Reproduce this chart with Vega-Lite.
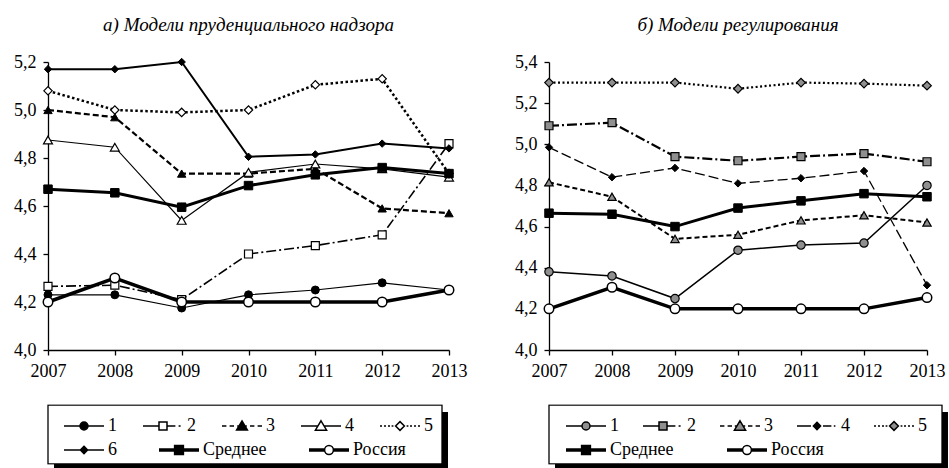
{
  "$schema": "https://vega.github.io/schema/vega-lite/v6.json",
  "background": "white",
  "padding": {"left": 13, "top": 16, "right": 0, "bottom": 0},
  "datasets": {
    "a": [
      {"series": "1", "year": 2007, "value": 4.23}, {"series": "1", "year": 2008, "value": 4.23}, {"series": "1", "year": 2009, "value": 4.175}, {"series": "1", "year": 2010, "value": 4.23}, {"series": "1", "year": 2011, "value": 4.25}, {"series": "1", "year": 2012, "value": 4.28}, {"series": "1", "year": 2013, "value": 4.25},
      {"series": "2", "year": 2007, "value": 4.265}, {"series": "2", "year": 2008, "value": 4.27}, {"series": "2", "year": 2009, "value": 4.21}, {"series": "2", "year": 2010, "value": 4.4}, {"series": "2", "year": 2011, "value": 4.435}, {"series": "2", "year": 2012, "value": 4.48}, {"series": "2", "year": 2013, "value": 4.86},
      {"series": "3", "year": 2007, "value": 5.0}, {"series": "3", "year": 2008, "value": 4.97}, {"series": "3", "year": 2009, "value": 4.735}, {"series": "3", "year": 2010, "value": 4.735}, {"series": "3", "year": 2011, "value": 4.755}, {"series": "3", "year": 2012, "value": 4.59}, {"series": "3", "year": 2013, "value": 4.57},
      {"series": "4", "year": 2007, "value": 4.875}, {"series": "4", "year": 2008, "value": 4.845}, {"series": "4", "year": 2009, "value": 4.54}, {"series": "4", "year": 2010, "value": 4.74}, {"series": "4", "year": 2011, "value": 4.775}, {"series": "4", "year": 2012, "value": 4.755}, {"series": "4", "year": 2013, "value": 4.72},
      {"series": "5", "year": 2007, "value": 5.08}, {"series": "5", "year": 2008, "value": 5.0}, {"series": "5", "year": 2009, "value": 4.99}, {"series": "5", "year": 2010, "value": 5.0}, {"series": "5", "year": 2011, "value": 5.105}, {"series": "5", "year": 2012, "value": 5.13}, {"series": "5", "year": 2013, "value": 4.735},
      {"series": "6", "year": 2007, "value": 5.17}, {"series": "6", "year": 2008, "value": 5.17}, {"series": "6", "year": 2009, "value": 5.2}, {"series": "6", "year": 2010, "value": 4.805}, {"series": "6", "year": 2011, "value": 4.815}, {"series": "6", "year": 2012, "value": 4.86}, {"series": "6", "year": 2013, "value": 4.84},
      {"series": "Среднее", "year": 2007, "value": 4.67}, {"series": "Среднее", "year": 2008, "value": 4.655}, {"series": "Среднее", "year": 2009, "value": 4.595}, {"series": "Среднее", "year": 2010, "value": 4.685}, {"series": "Среднее", "year": 2011, "value": 4.73}, {"series": "Среднее", "year": 2012, "value": 4.76}, {"series": "Среднее", "year": 2013, "value": 4.735},
      {"series": "Россия", "year": 2007, "value": 4.2}, {"series": "Россия", "year": 2008, "value": 4.3}, {"series": "Россия", "year": 2009, "value": 4.2}, {"series": "Россия", "year": 2010, "value": 4.2}, {"series": "Россия", "year": 2011, "value": 4.2}, {"series": "Россия", "year": 2012, "value": 4.2}, {"series": "Россия", "year": 2013, "value": 4.25}
    ],
    "b": [
      {"series": "1", "year": 2007, "value": 4.38}, {"series": "1", "year": 2008, "value": 4.36}, {"series": "1", "year": 2009, "value": 4.25}, {"series": "1", "year": 2010, "value": 4.485}, {"series": "1", "year": 2011, "value": 4.51}, {"series": "1", "year": 2012, "value": 4.52}, {"series": "1", "year": 2013, "value": 4.8},
      {"series": "2", "year": 2007, "value": 5.09}, {"series": "2", "year": 2008, "value": 5.105}, {"series": "2", "year": 2009, "value": 4.94}, {"series": "2", "year": 2010, "value": 4.92}, {"series": "2", "year": 2011, "value": 4.94}, {"series": "2", "year": 2012, "value": 4.955}, {"series": "2", "year": 2013, "value": 4.915},
      {"series": "3", "year": 2007, "value": 4.815}, {"series": "3", "year": 2008, "value": 4.745}, {"series": "3", "year": 2009, "value": 4.54}, {"series": "3", "year": 2010, "value": 4.56}, {"series": "3", "year": 2011, "value": 4.63}, {"series": "3", "year": 2012, "value": 4.655}, {"series": "3", "year": 2013, "value": 4.62},
      {"series": "4", "year": 2007, "value": 4.985}, {"series": "4", "year": 2008, "value": 4.84}, {"series": "4", "year": 2009, "value": 4.885}, {"series": "4", "year": 2010, "value": 4.81}, {"series": "4", "year": 2011, "value": 4.835}, {"series": "4", "year": 2012, "value": 4.87}, {"series": "4", "year": 2013, "value": 4.315},
      {"series": "5", "year": 2007, "value": 5.3}, {"series": "5", "year": 2008, "value": 5.3}, {"series": "5", "year": 2009, "value": 5.3}, {"series": "5", "year": 2010, "value": 5.27}, {"series": "5", "year": 2011, "value": 5.3}, {"series": "5", "year": 2012, "value": 5.295}, {"series": "5", "year": 2013, "value": 5.285},
      {"series": "Среднее", "year": 2007, "value": 4.665}, {"series": "Среднее", "year": 2008, "value": 4.66}, {"series": "Среднее", "year": 2009, "value": 4.6}, {"series": "Среднее", "year": 2010, "value": 4.69}, {"series": "Среднее", "year": 2011, "value": 4.725}, {"series": "Среднее", "year": 2012, "value": 4.76}, {"series": "Среднее", "year": 2013, "value": 4.745},
      {"series": "Россия", "year": 2007, "value": 4.2}, {"series": "Россия", "year": 2008, "value": 4.305}, {"series": "Россия", "year": 2009, "value": 4.2}, {"series": "Россия", "year": 2010, "value": 4.2}, {"series": "Россия", "year": 2011, "value": 4.2}, {"series": "Россия", "year": 2012, "value": 4.2}, {"series": "Россия", "year": 2013, "value": 4.255}
    ]
  },
  "spacing": 100,
  "bounds": "flush",
  "hconcat": [
    {
      "data": {"name": "a"},
      "width": 401,
      "height": 288,
      "title": {"text": "а) Модели пруденциального надзора"},
      "resolve": {"scale": {"shape": "independent", "fill": "independent", "stroke": "independent"}},
      "encoding": {
        "x": {"field": "year", "type": "quantitative", "scale": {"domain": [2007, 2013], "nice": false, "zero": false}, "axis": {"values": [2007, 2008, 2009, 2010, 2011, 2012, 2013], "format": "d"}},
        "y": {"field": "value", "type": "quantitative", "scale": {"domain": [4, 5.2], "nice": false, "zero": false}, "axis": {"values": [4, 4.2, 4.4, 4.6, 4.8, 5, 5.2], "labelExpr": "replace(format(datum.value, '.1f'), '.', ',')"}}
      },
      "layer": [
        {"transform": [{"filter": {"field": "series", "equal": "1"}}], "mark": {"type": "line", "color": "black", "strokeWidth": 1.2}, "encoding": {}},
        {"transform": [{"filter": {"field": "series", "equal": "2"}}], "mark": {"type": "line", "color": "black", "strokeWidth": 1.6, "strokeDash": [10, 3, 2, 3]}, "encoding": {}},
        {"transform": [{"filter": {"field": "series", "equal": "3"}}], "mark": {"type": "line", "color": "black", "strokeWidth": 2.2, "strokeDash": [6, 3]}, "encoding": {}},
        {"transform": [{"filter": {"field": "series", "equal": "4"}}], "mark": {"type": "line", "color": "black", "strokeWidth": 1.2}, "encoding": {}},
        {"transform": [{"filter": {"field": "series", "equal": "5"}}], "mark": {"type": "line", "color": "black", "strokeWidth": 2.5, "strokeDash": [2.5, 2.5]}, "encoding": {}},
        {"transform": [{"filter": {"field": "series", "equal": "6"}}], "mark": {"type": "line", "color": "black", "strokeWidth": 2}, "encoding": {}},
        {"transform": [{"filter": {"field": "series", "equal": "Среднее"}}], "mark": {"type": "line", "color": "black", "strokeWidth": 3}, "encoding": {}},
        {"transform": [{"filter": {"field": "series", "equal": "Россия"}}], "mark": {"type": "line", "color": "black", "strokeWidth": 3.5}, "encoding": {}},
        {"transform": [{"filter": {"field": "series", "equal": "1"}}], "mark": {"type": "point", "shape": "circle", "filled": true, "fill": "black", "stroke": "black", "strokeWidth": 1, "size": 64, "opacity": 1}, "encoding": {}},
        {"transform": [{"filter": {"field": "series", "equal": "2"}}], "mark": {"type": "point", "shape": "square", "filled": true, "fill": "white", "stroke": "black", "strokeWidth": 1.2, "size": 64, "opacity": 1}, "encoding": {}},
        {"transform": [{"filter": {"field": "series", "equal": "3"}}], "mark": {"type": "point", "shape": "triangle-up", "filled": true, "fill": "black", "stroke": "black", "strokeWidth": 1, "size": 70, "opacity": 1}, "encoding": {}},
        {"transform": [{"filter": {"field": "series", "equal": "4"}}], "mark": {"type": "point", "shape": "triangle-up", "filled": true, "fill": "white", "stroke": "black", "strokeWidth": 1.2, "size": 80, "opacity": 1}, "encoding": {}},
        {"transform": [{"filter": {"field": "series", "equal": "5"}}], "mark": {"type": "point", "shape": "diamond", "filled": true, "fill": "white", "stroke": "black", "strokeWidth": 1.2, "size": 70, "opacity": 1}, "encoding": {}},
        {"transform": [{"filter": {"field": "series", "equal": "6"}}], "mark": {"type": "point", "shape": "diamond", "filled": true, "fill": "black", "stroke": "black", "strokeWidth": 1, "size": 55, "opacity": 1}, "encoding": {}},
        {"transform": [{"filter": {"field": "series", "equal": "Среднее"}}], "mark": {"type": "point", "shape": "square", "filled": true, "fill": "black", "stroke": "black", "strokeWidth": 1, "size": 72, "opacity": 1}, "encoding": {}},
        {"transform": [{"filter": {"field": "series", "equal": "Россия"}}], "mark": {"type": "point", "shape": "circle", "filled": true, "fill": "white", "stroke": "black", "strokeWidth": 1.5, "size": 90, "opacity": 1}, "encoding": {}},
        {
          "transform": [{"filter": "false"}],
          "mark": {"type": "point", "filled": true, "opacity": 1, "strokeWidth": 0},
          "encoding": {
            "shape": {"field": "series", "type": "nominal", "scale": {"domain": ["shadow-a"], "range": ["M-1,-0.1497H1V0.1497H-1Z"]},
              "legend": {"title": null, "orient": "none", "legendX": 6, "legendY": 349.5, "columns": 1, "clipHeight": 60, "symbolSize": 155236, "symbolStrokeWidth": 0, "labelExpr": "''", "zindex": 0}},
            "fill": {"field": "series", "type": "nominal", "scale": {"domain": ["shadow-a"], "range": ["black"]},
              "legend": {"title": null, "orient": "none", "legendX": 6, "legendY": 349.5, "columns": 1, "clipHeight": 60, "symbolSize": 155236, "symbolStrokeWidth": 0, "labelExpr": "''", "zindex": 0}}
          }
        },
        {
          "transform": [{"filter": "false"}],
          "mark": {"type": "point", "filled": true, "opacity": 1, "strokeWidth": 1.3},
          "encoding": {
            "shape": {"field": "series", "type": "nominal", "scale": {"domain": ["box-a"], "range": ["M-1,-0.1497H1V0.1497H-1Z"]},
              "legend": {"title": null, "orient": "none", "legendX": -1, "legendY": 342.5, "columns": 1, "clipHeight": 60, "symbolSize": 155236, "symbolStrokeWidth": 1.3, "labelExpr": "''", "zindex": 1}},
            "fill": {"field": "series", "type": "nominal", "scale": {"domain": ["box-a"], "range": ["white"]},
              "legend": {"title": null, "orient": "none", "legendX": -1, "legendY": 342.5, "columns": 1, "clipHeight": 60, "symbolSize": 155236, "symbolStrokeWidth": 1.3, "labelExpr": "''", "zindex": 1}},
            "stroke": {"field": "series", "type": "nominal", "scale": {"domain": ["box-a"], "range": ["black"]},
              "legend": {"title": null, "orient": "none", "legendX": -1, "legendY": 342.5, "columns": 1, "clipHeight": 60, "symbolSize": 155236, "symbolStrokeWidth": 1.3, "labelExpr": "''", "zindex": 1}}
          }
        },
        {
          "transform": [{"filter": "false"}],
          "mark": {"type": "point", "filled": true, "opacity": 1, "strokeWidth": 1.5},
          "encoding": {
            "shape": {"field": "series", "type": "nominal",
              "scale": {"domain": ["1", "2", "3", "4", "5"],
                "range": [
                  "M-1,0H1M-0.2,0A0.2,0.2,0,1,0,0.2,0A0.2,0.2,0,1,0,-0.2,0Z",
                  "M-1,0H-0.2M0.2,0H0.62M0.78,0H0.88M-0.2,-0.2H0.2V0.2H-0.2Z",
                  "M-1,0H-0.78M-0.62,0H-0.4M-0.24,0H0.24M0.4,0H0.62M0.78,0H1M0,-0.25L0.27,0.2H-0.27Z",
                  "M-1,0H-0.16M0.16,0H1M0,-0.26L0.28,0.21H-0.28Z",
                  "M-1,0H-0.9M-0.8,0H-0.7M-0.6,0H-0.5M-0.42,0H-0.33M0.33,0H0.42M0.5,0H0.6M0.7,0H0.8M0.9,0H1M0,-0.22L0.22,0L0,0.22L-0.22,0Z"
                ]},
              "legend": {"title": null, "orient": "none", "direction": "horizontal", "legendX": 15, "legendY": 355, "columnPadding": 25, "zindex": 2}},
            "fill": {"field": "series", "type": "nominal",
              "scale": {"domain": ["1", "2", "3", "4", "5"], "range": ["black", "white", "black", "white", "white"]},
              "legend": {"title": null, "orient": "none", "direction": "horizontal", "legendX": 15, "legendY": 355, "columnPadding": 25, "zindex": 2}},
            "stroke": {"field": "series", "type": "nominal",
              "scale": {"domain": ["1", "2", "3", "4", "5"], "range": ["black"]},
              "legend": {"title": null, "orient": "none", "direction": "horizontal", "legendX": 15, "legendY": 355, "columnPadding": 25, "zindex": 2}}
          }
        },
        {
          "transform": [{"filter": "false"}],
          "mark": {"type": "point", "filled": true, "opacity": 1, "strokeWidth": 1.5},
          "encoding": {
            "shape": {"field": "series", "type": "nominal",
              "scale": {"domain": ["6", "Среднее", "Россия"],
                "range": [
                  "M-1,0H1M0,-0.18L0.18,0L0,0.18L-0.18,0Z",
                  "M-1,-0.05H1M-1,0H1M-1,0.05H1M-0.22,-0.22H0.22V0.22H-0.22Z",
                  "M-1,-0.05H-0.215M-1,0H-0.22M-1,0.05H-0.215M0.215,-0.05H1M0.22,0H1M0.215,0.05H1M-0.22,0A0.22,0.22,0,1,0,0.22,0A0.22,0.22,0,1,0,-0.22,0Z"
                ]},
              "legend": {"title": null, "orient": "none", "direction": "horizontal", "legendX": 15, "legendY": 379, "columnPadding": 41, "zindex": 2}},
            "fill": {"field": "series", "type": "nominal",
              "scale": {"domain": ["6", "Среднее", "Россия"], "range": ["black", "black", "white"]},
              "legend": {"title": null, "orient": "none", "direction": "horizontal", "legendX": 15, "legendY": 379, "columnPadding": 41, "zindex": 2}},
            "stroke": {"field": "series", "type": "nominal",
              "scale": {"domain": ["6", "Среднее", "Россия"], "range": ["black"]},
              "legend": {"title": null, "orient": "none", "direction": "horizontal", "legendX": 15, "legendY": 379, "columnPadding": 41, "zindex": 2}}
          }
        }
      ]
    },
    {
      "data": {"name": "b"},
      "width": 378,
      "height": 288,
      "title": {"text": "б) Модели регулирования"},
      "resolve": {"scale": {"shape": "independent", "fill": "independent", "stroke": "independent"}},
      "encoding": {
        "x": {"field": "year", "type": "quantitative", "scale": {"domain": [2007, 2013], "nice": false, "zero": false}, "axis": {"values": [2007, 2008, 2009, 2010, 2011, 2012, 2013], "format": "d"}},
        "y": {"field": "value", "type": "quantitative", "scale": {"domain": [4, 5.4], "nice": false, "zero": false}, "axis": {"values": [4, 4.2, 4.4, 4.6, 4.8, 5, 5.2, 5.4], "labelExpr": "replace(format(datum.value, '.1f'), '.', ',')"}}
      },
      "layer": [
        {"transform": [{"filter": {"field": "series", "equal": "1"}}], "mark": {"type": "line", "color": "black", "strokeWidth": 1.5}, "encoding": {}},
        {"transform": [{"filter": {"field": "series", "equal": "2"}}], "mark": {"type": "line", "color": "black", "strokeWidth": 2.2, "strokeDash": [10, 3, 2, 3]}, "encoding": {}},
        {"transform": [{"filter": {"field": "series", "equal": "3"}}], "mark": {"type": "line", "color": "black", "strokeWidth": 2, "strokeDash": [5, 3]}, "encoding": {}},
        {"transform": [{"filter": {"field": "series", "equal": "4"}}], "mark": {"type": "line", "color": "black", "strokeWidth": 1.3, "strokeDash": [10, 4]}, "encoding": {}},
        {"transform": [{"filter": {"field": "series", "equal": "5"}}], "mark": {"type": "line", "color": "black", "strokeWidth": 2.2, "strokeDash": [2, 2.5]}, "encoding": {}},
        {"transform": [{"filter": {"field": "series", "equal": "Среднее"}}], "mark": {"type": "line", "color": "black", "strokeWidth": 3}, "encoding": {}},
        {"transform": [{"filter": {"field": "series", "equal": "Россия"}}], "mark": {"type": "line", "color": "black", "strokeWidth": 3.5}, "encoding": {}},
        {"transform": [{"filter": {"field": "series", "equal": "1"}}], "mark": {"type": "point", "shape": "circle", "filled": true, "fill": "#8f8f8f", "stroke": "black", "strokeWidth": 1.2, "size": 70, "opacity": 1}, "encoding": {}},
        {"transform": [{"filter": {"field": "series", "equal": "2"}}], "mark": {"type": "point", "shape": "square", "filled": true, "fill": "#8f8f8f", "stroke": "black", "strokeWidth": 1.2, "size": 64, "opacity": 1}, "encoding": {}},
        {"transform": [{"filter": {"field": "series", "equal": "3"}}], "mark": {"type": "point", "shape": "triangle-up", "filled": true, "fill": "#8f8f8f", "stroke": "black", "strokeWidth": 1.2, "size": 70, "opacity": 1}, "encoding": {}},
        {"transform": [{"filter": {"field": "series", "equal": "4"}}], "mark": {"type": "point", "shape": "diamond", "filled": true, "fill": "black", "stroke": "black", "strokeWidth": 1, "size": 55, "opacity": 1}, "encoding": {}},
        {"transform": [{"filter": {"field": "series", "equal": "5"}}], "mark": {"type": "point", "shape": "diamond", "filled": true, "fill": "#8f8f8f", "stroke": "black", "strokeWidth": 1.2, "size": 75, "opacity": 1}, "encoding": {}},
        {"transform": [{"filter": {"field": "series", "equal": "Среднее"}}], "mark": {"type": "point", "shape": "square", "filled": true, "fill": "black", "stroke": "black", "strokeWidth": 1, "size": 72, "opacity": 1}, "encoding": {}},
        {"transform": [{"filter": {"field": "series", "equal": "Россия"}}], "mark": {"type": "point", "shape": "circle", "filled": true, "fill": "white", "stroke": "black", "strokeWidth": 1.5, "size": 90, "opacity": 1}, "encoding": {}},
        {
          "transform": [{"filter": "false"}],
          "mark": {"type": "point", "filled": true, "opacity": 1, "strokeWidth": 0},
          "encoding": {
            "shape": {"field": "series", "type": "nominal", "scale": {"domain": ["shadow-b"], "range": ["M-1,-0.1501H1V0.1501H-1Z"]},
              "legend": {"title": null, "orient": "none", "legendX": 6, "legendY": 349.5, "columns": 1, "clipHeight": 60, "symbolSize": 154449, "symbolStrokeWidth": 0, "labelExpr": "''", "zindex": 0}},
            "fill": {"field": "series", "type": "nominal", "scale": {"domain": ["shadow-b"], "range": ["black"]},
              "legend": {"title": null, "orient": "none", "legendX": 6, "legendY": 349.5, "columns": 1, "clipHeight": 60, "symbolSize": 154449, "symbolStrokeWidth": 0, "labelExpr": "''", "zindex": 0}}
          }
        },
        {
          "transform": [{"filter": "false"}],
          "mark": {"type": "point", "filled": true, "opacity": 1, "strokeWidth": 1.3},
          "encoding": {
            "shape": {"field": "series", "type": "nominal", "scale": {"domain": ["box-b"], "range": ["M-1,-0.1501H1V0.1501H-1Z"]},
              "legend": {"title": null, "orient": "none", "legendX": -1, "legendY": 342.5, "columns": 1, "clipHeight": 60, "symbolSize": 154449, "symbolStrokeWidth": 1.3, "labelExpr": "''", "zindex": 1}},
            "fill": {"field": "series", "type": "nominal", "scale": {"domain": ["box-b"], "range": ["white"]},
              "legend": {"title": null, "orient": "none", "legendX": -1, "legendY": 342.5, "columns": 1, "clipHeight": 60, "symbolSize": 154449, "symbolStrokeWidth": 1.3, "labelExpr": "''", "zindex": 1}},
            "stroke": {"field": "series", "type": "nominal", "scale": {"domain": ["box-b"], "range": ["black"]},
              "legend": {"title": null, "orient": "none", "legendX": -1, "legendY": 342.5, "columns": 1, "clipHeight": 60, "symbolSize": 154449, "symbolStrokeWidth": 1.3, "labelExpr": "''", "zindex": 1}}
          }
        },
        {
          "transform": [{"filter": "false"}],
          "mark": {"type": "point", "filled": true, "opacity": 1, "strokeWidth": 1.5},
          "encoding": {
            "shape": {"field": "series", "type": "nominal",
              "scale": {"domain": ["1", "2", "3", "4", "5"],
                "range": [
                  "M-1,0H-0.2M0.2,0H1M-0.2,0A0.2,0.2,0,1,0,0.2,0A0.2,0.2,0,1,0,-0.2,0Z",
                  "M-1,0H-0.2M0.2,0H0.62M0.78,0H0.88M-0.2,-0.2H0.2V0.2H-0.2Z",
                  "M-1,0H-0.78M-0.62,0H-0.4M-0.26,0H-0.16M0.16,0H0.26M0.4,0H0.62M0.78,0H1M0,-0.26L0.28,0.21H-0.28Z",
                  "M-1,0H-0.3M-0.18,0H0.18M0.3,0H0.72M0.84,0H0.92M0,-0.18L0.18,0L0,0.18L-0.18,0Z",
                  "M-1,0H-0.9M-0.8,0H-0.7M-0.6,0H-0.5M-0.42,0H-0.33M0.33,0H0.42M0.5,0H0.6M0.7,0H0.8M0.9,0H1M0,-0.22L0.22,0L0,0.22L-0.22,0Z"
                ]},
              "legend": {"title": null, "orient": "none", "direction": "horizontal", "legendX": 16, "legendY": 355, "columnPadding": 23, "zindex": 2}},
            "fill": {"field": "series", "type": "nominal",
              "scale": {"domain": ["1", "2", "3", "4", "5"], "range": ["#8f8f8f", "#8f8f8f", "#8f8f8f", "black", "#8f8f8f"]},
              "legend": {"title": null, "orient": "none", "direction": "horizontal", "legendX": 16, "legendY": 355, "columnPadding": 23, "zindex": 2}},
            "stroke": {"field": "series", "type": "nominal",
              "scale": {"domain": ["1", "2", "3", "4", "5"], "range": ["black"]},
              "legend": {"title": null, "orient": "none", "direction": "horizontal", "legendX": 16, "legendY": 355, "columnPadding": 23, "zindex": 2}}
          }
        },
        {
          "transform": [{"filter": "false"}],
          "mark": {"type": "point", "filled": true, "opacity": 1, "strokeWidth": 1.5},
          "encoding": {
            "shape": {"field": "series", "type": "nominal",
              "scale": {"domain": ["Среднее", "Россия"],
                "range": [
                  "M-1,-0.05H1M-1,0H1M-1,0.05H1M-0.22,-0.22H0.22V0.22H-0.22Z",
                  "M-1,-0.05H-0.215M-1,0H-0.22M-1,0.05H-0.215M0.215,-0.05H1M0.22,0H1M0.215,0.05H1M-0.22,0A0.22,0.22,0,1,0,0.22,0A0.22,0.22,0,1,0,-0.22,0Z"
                ]},
              "legend": {"title": null, "orient": "none", "direction": "horizontal", "legendX": 16, "legendY": 379, "columnPadding": 52, "zindex": 2}},
            "fill": {"field": "series", "type": "nominal",
              "scale": {"domain": ["Среднее", "Россия"], "range": ["black", "white"]},
              "legend": {"title": null, "orient": "none", "direction": "horizontal", "legendX": 16, "legendY": 379, "columnPadding": 52, "zindex": 2}},
            "stroke": {"field": "series", "type": "nominal",
              "scale": {"domain": ["Среднее", "Россия"], "range": ["black"]},
              "legend": {"title": null, "orient": "none", "direction": "horizontal", "legendX": 16, "legendY": 379, "columnPadding": 52, "zindex": 2}}
          }
        }
      ]
    }
  ],
  "resolve": {
    "scale": {"x": "independent", "y": "independent", "shape": "independent", "fill": "independent", "stroke": "independent"},
    "legend": {"shape": "independent", "fill": "independent", "stroke": "independent"}
  },
  "config": {
    "font": "Liberation Serif",
    "view": {"stroke": null},
    "title": {"font": "Liberation Serif", "fontStyle": "italic", "fontWeight": "normal", "fontSize": 19, "color": "black", "offset": 18, "anchor": "middle"},
    "axis": {"grid": false, "title": null, "domainColor": "black", "domainWidth": 1.3, "tickColor": "black", "tickWidth": 1.3, "tickSize": 5, "labelColor": "black", "labelFont": "Liberation Serif", "labelFontSize": 18, "labelFlush": false, "labelOverlap": false},
    "axisX": {"labelPadding": 7},
    "axisY": {"labelPadding": 7},
    "legend": {"columns": 5, "symbolSize": 1600, "symbolStrokeWidth": 1.5, "clipHeight": 18, "rowPadding": 0, "columnPadding": 24, "padding": 0, "labelOffset": 3, "labelFont": "Liberation Serif", "labelFontSize": 18, "labelColor": "black", "labelLimit": 300}
  }
}
